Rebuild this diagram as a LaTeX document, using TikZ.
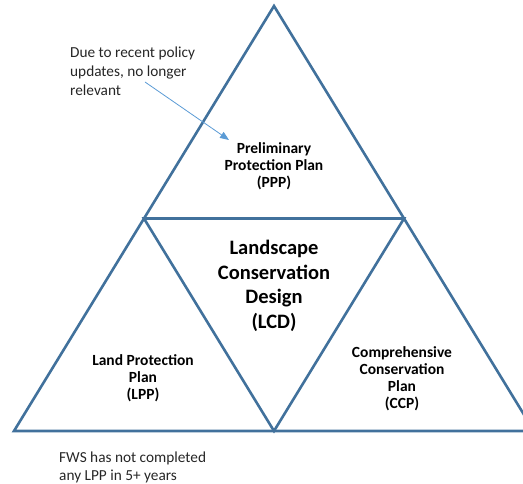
\documentclass[tikz,border=0pt]{standalone}
\usepackage{fontspec}
\setmainfont{Carlito}
\usetikzlibrary{arrows.meta}
\definecolor{edge}{HTML}{41719C}
\definecolor{arr}{HTML}{5B9BD5}
\definecolor{note}{HTML}{262626}
\tikzset{
  tri/.style={draw=edge, line width=2.6pt, line join=miter},
  lbl/.style={align=center, font=\bfseries\fontsize{15.5}{17}\selectfont, text=black, inner sep=0pt},
  big/.style={align=center, font=\bfseries\fontsize{20.5}{24.5}\selectfont, text=black, inner sep=0pt},
  notetext/.style={align=left, font=\fontsize{15.3}{19}\selectfont, text=note, inner sep=0pt, anchor=west},
  notetextb/.style={align=left, font=\fontsize{15.3}{18.5}\selectfont, text=note, inner sep=0pt, anchor=west},
  pointer/.style={draw=arr, line width=0.8pt, -{Triangle[length=9pt,width=7pt]}}
}
\begin{document}
\begin{tikzpicture}[x=1pt,y=-1pt]
\useasboundingbox (0,0) rectangle (523,484);
\begin{scope}
\clip (0,0) rectangle (523,484);
\coordinate (A) at (274,6);
\coordinate (B) at (14,431);
\coordinate (C) at (534,431);
\coordinate (L) at (144,218.5);
\coordinate (R) at (404,218.5);
\coordinate (M) at (274,431);
\draw[tri] (A) -- (B) -- (C) -- cycle;
\draw[tri] (L) -- (R) -- (M) -- cycle;
\end{scope}
\node[lbl] (ppp) at (274,166.5) {Preliminary\\Protection Plan\\(PPP)};
\node[big] (lcd) at (274,286) {Landscape\\Conservation\\Design\\(LCD)};
\node[lbl] (lpp) at (143,378) {Land Protection\\Plan\\(LPP)};
\node[lbl] (ccp) at (402,378.5) {Comprehensive\\Conservation\\Plan\\(CCP)};
\node[notetext] (n1) at (70,71.5) {Due to recent policy\\updates, no longer\\relevant};
\node[notetextb] (n2) at (59,467.5) {FWS has not completed\\any LPP in 5+ years};
\coordinate (s) at (145,82);
\draw[pointer] (s) -- (229,140);
\end{tikzpicture}
\end{document}
